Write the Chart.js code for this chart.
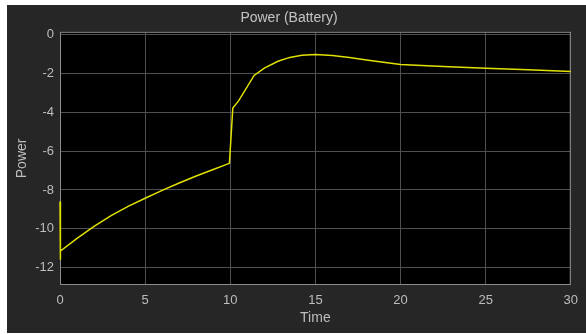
<!DOCTYPE html>
<html>
<head>
<meta charset="utf-8">
<script src="https://cdn.jsdelivr.net/npm/chart.js@4/dist/chart.umd.min.js"></script>
<style>
  html, body { margin: 0; padding: 0; background: #ffffff; }
  #frame { position: absolute; left: 7px; top: 5px; width: 579px; height: 328px; background: #262626; }
</style>
</head>
<body>
<div id="frame"><canvas id="chart"></canvas></div>
<script>
// Power (Battery) scope trace
var timeValues = [0, 0, 0.05, 1, 2, 3, 4, 5, 6, 7, 8, 9, 9.95, 10.15, 10.5, 11.4, 12, 12.8, 13.5, 14.2, 15, 16, 17, 18, 19, 20, 22.5, 25, 27.5, 30];
var powerValues = [-8.6, -11.6, -11.15, -10.5, -9.88, -9.32, -8.85, -8.43, -8.02, -7.64, -7.28, -6.95, -6.63, -3.78, -3.4, -2.1, -1.72, -1.37, -1.17, -1.06, -1.02, -1.07, -1.18, -1.3, -1.42, -1.53, -1.64, -1.73, -1.81, -1.9];
var xTicks = [0, 5, 10, 15, 20, 25, 30];
var yTicks = [-12, -10, -8, -6, -4, -2, 0];

var textColor = '#bdbdbd';
var gridColor = '#505050';

var points = [];
for (var i = 0; i < timeValues.length; i++) {
    points.push({x: timeValues[i], y: powerValues[i]});
}

// black plot area plus a light box round it, under the trace
var plotBox = {
    id: 'plotBox',
    beforeDraw: function(chart) {
        var a = chart.chartArea, ctx = chart.ctx;
        ctx.save();
        ctx.fillStyle = '#000000';
        ctx.fillRect(a.left, a.top, a.right - a.left, a.bottom - a.top);
        ctx.restore();
    },
    beforeDatasetsDraw: function(chart) {
        var a = chart.chartArea, ctx = chart.ctx;
        ctx.save();
        ctx.strokeStyle = '#8c8c8c';
        ctx.lineWidth = 1;
        ctx.strokeRect(a.left + 0.5, a.top + 0.5, a.right - a.left - 1, a.bottom - a.top - 1);
        ctx.restore();
    }
};

new Chart(document.getElementById('chart'), {
    type: 'line',
    data: {
        datasets: [{
            label: 'Power',
            data: points,
            borderColor: '#e1e100',
            borderWidth: 1.5,
            pointRadius: 0,
            tension: 0,
            fill: false,
            clip: 2
        }]
    },
    options: {
        responsive: true,
        maintainAspectRatio: false,
        animation: false,
        layout: { padding: { right: 15 } },
        plugins: {
            legend: { display: false },
            tooltip: { enabled: false },
            title: {
                display: true,
                text: 'Power (Battery)',
                color: '#c4c4c4',
                font: { family: 'Liberation Sans', size: 14, weight: 'normal' },
                padding: { top: 5, bottom: 5 }
            }
        },
        scales: {
            x: {
                type: 'linear',
                min: 0,
                max: 30,
                afterBuildTicks: function(scale) {
                    scale.ticks = xTicks.map(function(v) { return {value: v}; });
                },
                afterFit: function(scale) { scale.height = 48; },
                grid: { color: gridColor, drawTicks: false },
                border: { display: false },
                ticks: { color: textColor, padding: 8, font: { family: 'Liberation Sans', size: 13 } },
                title: {
                    display: true,
                    text: 'Time',
                    color: textColor,
                    font: { family: 'Liberation Sans', size: 14 },
                    padding: { top: 6, bottom: 6 }
                }
            },
            y: {
                type: 'linear',
                min: -12.9,
                max: 0.15,
                afterBuildTicks: function(scale) {
                    scale.ticks = yTicks.map(function(v) { return {value: v}; });
                },
                afterFit: function(scale) { scale.width = 53; },
                grid: { color: gridColor, drawTicks: false },
                border: { display: false },
                ticks: { color: textColor, padding: 6, font: { family: 'Liberation Sans', size: 13 } },
                title: {
                    display: true,
                    text: 'Power',
                    color: textColor,
                    font: { family: 'Liberation Sans', size: 14 },
                    padding: { top: 7, bottom: 7 }
                }
            }
        }
    },
    plugins: [plotBox]
});
</script>
</body>
</html>
